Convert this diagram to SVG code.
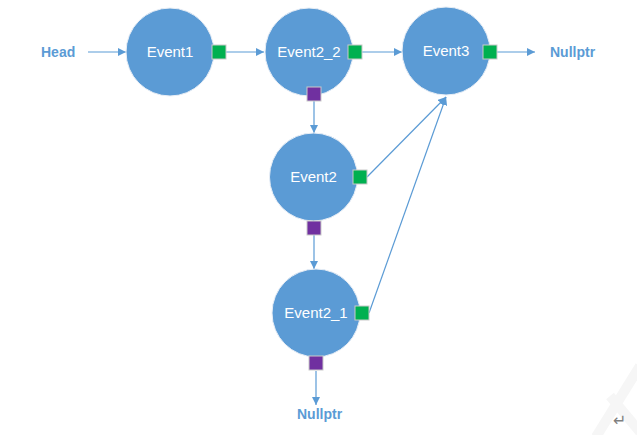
<svg xmlns="http://www.w3.org/2000/svg" width="637" height="435" viewBox="0 0 637 435">
<style>
.node circle{fill:#5B9BD5;stroke:#E8EEF6;stroke-width:1}
.node text{fill:#fff;font-family:"Liberation Sans",Arial,sans-serif;font-size:15px;text-anchor:middle}
.g{fill:#00B050;stroke:#C9C9C9;stroke-width:1}
.p{fill:#7030A0;stroke:#C9C9C9;stroke-width:1}
.lbl{fill:#5B9BD5;font-family:"Liberation Sans",Arial,sans-serif;font-size:14px;font-weight:bold}
#connectors line{stroke:#5B9BD5;stroke-width:1.2;marker-end:url(#ah)}
</style>
<defs>
<marker id="ah" viewBox="0 0 10 10" refX="10" refY="5" markerWidth="8" markerHeight="8" markerUnits="userSpaceOnUse" orient="auto">
<path d="M0,0 L10,5 L0,10 z" fill="#5B9BD5"/>
</marker>
</defs>
<rect width="637" height="435" fill="#fff"/>
<g id="watermark" stroke="#F6F6F6" stroke-width="10" fill="none">
<line x1="640" y1="366" x2="596" y2="437"/>
<line x1="610" y1="396" x2="640" y2="432"/>
</g>
<g id="connectors">
<line x1="88" y1="52" x2="126" y2="52"/>
<line x1="226" y1="52" x2="264" y2="52"/>
<line x1="362" y1="52" x2="402" y2="52"/>
<line x1="497" y1="52" x2="535" y2="52"/>
<line x1="314" y1="101" x2="314" y2="133"/>
<line x1="314" y1="235" x2="314" y2="269"/>
<line x1="316" y1="371" x2="316" y2="405"/>
<line x1="367" y1="177" x2="446" y2="97"/>
<line x1="369" y1="313" x2="446" y2="97"/>
</g>
<text id="head" class="lbl" x="41" y="57">Head</text>
<text id="null1" class="lbl" x="550" y="57">Nullptr</text>
<text id="null2" class="lbl" x="297" y="419">Nullptr</text>
<g id="event1" class="node">
<circle cx="170" cy="52" r="44"/>
<text x="170" y="57">Event1</text>
<rect class="g" x="212" y="45" width="14" height="14"/>
</g>
<g id="event2_2" class="node">
<circle cx="309" cy="52" r="44"/>
<text x="309" y="57">Event2_2</text>
<rect class="g" x="348" y="45" width="14" height="14"/>
<rect class="p" x="307" y="87" width="14" height="14"/>
</g>
<g id="event3" class="node">
<circle cx="446" cy="51" r="44"/>
<text x="446" y="56">Event3</text>
<rect class="g" x="483" y="45" width="14" height="14"/>
</g>
<g id="event2" class="node">
<circle cx="313.5" cy="177" r="44"/>
<text x="313.5" y="182">Event2</text>
<rect class="g" x="353" y="170" width="14" height="14"/>
<rect class="p" x="307" y="221" width="14" height="14"/>
</g>
<g id="event2_1" class="node">
<circle cx="316" cy="313" r="44"/>
<text x="316" y="318">Event2_1</text>
<rect class="g" x="355" y="306" width="14" height="14"/>
<rect class="p" x="309" y="356" width="14" height="14"/>
</g>
<text x="613" y="426" fill="#7F7F7F" font-family="DejaVu Sans,sans-serif" font-size="16px">↵</text>
</svg>
